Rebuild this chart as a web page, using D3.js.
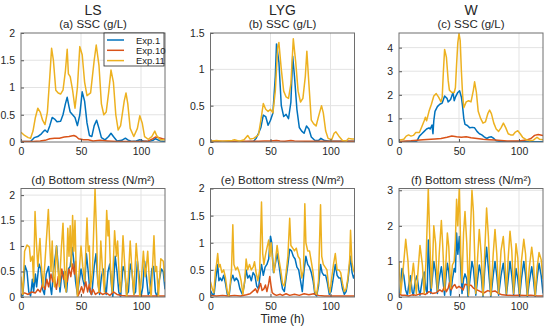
<!DOCTYPE html>
<html>
<head>
<meta charset="utf-8">
<script src="https://cdn.jsdelivr.net/npm/d3@7"></script>
<style>
  body { margin: 0; background: #fff; }
  svg text { font-family: "Liberation Sans", Arial, sans-serif; fill: #262626; }
</style>
</head>
<body>
<svg id="chart" width="550" height="331"></svg>
<script>
// series names and colours (MATLAB default order)
var seriesNames = ["Exp.1", "Exp.10", "Exp.11"];
var seriesColors = ["#0072BD", "#D95319", "#EDB120"];
var xTicks = [0, 50, 100];

// ---- (a) LS, SSC (g/L) : [time h, value]
var lsSscExp1 = [[0,0.01],[8,0.01],[11,0.08],[14,0.1],[17,0.15],[19,0.2],[20,0.22],[22,0.18],[24,0.3],[26,0.45],[28,0.42],[30,0.37],[33,0.38],[35,0.5],[37,0.7],[38.5,0.82],[40,0.65],[41,0.55],[43,0.5],[45,0.45],[47,0.3],[49,0.5],[51,0.92],[53,0.75],[55,0.35],[57,0.12],[59,0.1],[61,0.3],[63,0.4],[65,0.25],[67,0.08],[70,0.04],[73,0.1],[75,0.16],[77,0.1],[80,0.02],[84,0.03],[87,0.07],[89,0.04],[92,0.01],[96,0.02],[99,0.04],[102,0.02],[106,0.01],[110,0.03],[112,0.06],[116,0.02],[120,0.01]];
var lsSscExp10 = [[0,0.01],[10,0.01],[16,0.02],[20,0.03],[24,0.06],[28,0.07],[32,0.07],[36,0.09],[40,0.1],[44,0.12],[46,0.1],[48,0.06],[52,0.04],[56,0.04],[60,0.02],[66,0.03],[72,0.02],[80,0.01],[90,0.01],[100,0.01],[106,0.02],[110,0.06],[112,0.09],[115,0.08],[118,0.06],[120,0.05]];
var lsSscExp11 = [[0,0.18],[3,0.12],[6,0.08],[8,0.07],[10,0.2],[12,0.45],[14,0.62],[16,0.55],[18,0.4],[20,0.32],[22,0.55],[24,1.2],[25.5,1.72],[27,1.5],[29,0.95],[31,0.9],[33,0.88],[35,0.95],[37,1.3],[38.5,1.7],[39.5,1.25],[41,1.2],[43,0.95],[45,0.62],[47,1.0],[49,1.75],[51,1.6],[53,1.1],[55,0.85],[58,0.9],[61,1.5],[62.7,1.78],[65,1.4],[67,0.7],[69,0.5],[71,0.55],[73,0.9],[75,1.32],[77,1.1],[79,0.5],[81,0.22],[83,0.3],[86,0.75],[87.5,0.9],[89,0.7],[91,0.25],[94,0.1],[97,0.25],[99,0.48],[101,0.35],[103,0.1],[106,0.05],[109,0.1],[111.5,0.2],[113,0.12],[116,0.04],[120,0.04]];

// ---- (b) LYG, SSC (g/L)
var lygSscExp1 = [[0,0.005],[10,0.005],[20,0.005],[30,0.005],[36,0.01],[38,0.05],[40,0.12],[42,0.2],[44,0.37],[46,0.35],[48,0.23],[50,0.3],[52,0.4],[54,0.9],[55,1.35],[57,1.1],[59,0.5],[61,0.35],[63,0.38],[65,0.32],[67,0.55],[68.5,1.18],[70,0.9],[72,0.45],[74,0.2],[76,0.15],[78,0.12],[80,0.22],[82,0.18],[84,0.07],[87,0.02],[90,0.02],[92,0.05],[95,0.02],[100,0.01],[110,0.01],[120,0.01]];
var lygSscExp10 = [[0,0.01],[10,0.01],[20,0.01],[30,0.01],[40,0.01],[45,0.015],[50,0.015],[55,0.022],[58,0.015],[62,0.01],[67,0.02],[70,0.015],[80,0.01],[90,0.01],[100,0.01],[110,0.01],[120,0.01]];
var lygSscExp11 = [[0,0.01],[5,0.02],[10,0.01],[18,0.02],[20,0.03],[24,0.01],[28,0.03],[31,0.09],[33,0.04],[36,0.05],[40,0.1],[42,0.3],[44,0.53],[46,0.45],[48,0.42],[50,0.45],[52,0.4],[54,0.7],[56,1.3],[57,1.37],[59,1.0],[61,0.7],[63,0.62],[65,0.6],[67,0.8],[69,1.42],[71,1.1],[73,0.7],[75,0.55],[77,0.6],[79,0.9],[80.3,1.25],[82,0.8],[84,0.3],[86,0.25],[88,0.22],[90,0.35],[92.5,0.5],[94,0.4],[96,0.15],[98,0.05],[101,0.03],[103,0.12],[104.5,0.14],[107,0.08],[110,0.02],[113,0.01],[115,0.05],[118,0.04],[120,0.04]];

// ---- (c) W, SSC (g/L)
var wSscExp1 = [[0,0.01],[10,0.02],[14,0.02],[15,0.05],[17,0.25],[19,0.35],[21,0.45],[23,0.55],[25,0.6],[26,0.55],[27.5,0.72],[28.3,0.35],[29,0.9],[30,1.3],[32,1.5],[34,1.6],[36,1.65],[38,1.95],[40,1.85],[41,1.7],[43,1.8],[45,2.1],[46,1.75],[47,1.9],[49,2.1],[50.5,2.17],[52,1.9],[53,1.5],[54,1.0],[55,0.75],[57,0.7],[59,0.6],[61,0.62],[63,0.6],[65,0.45],[67,0.35],[69,0.3],[71,0.22],[73,0.15],[75,0.2],[77,0.22],[79,0.15],[81,0.05],[85,0.02],[90,0.01],[100,0.02],[110,0.01],[120,0.01]];
var wSscExp10 = [[0,0.02],[10,0.05],[20,0.1],[30,0.13],[35,0.15],[40,0.2],[44,0.25],[48,0.22],[52,0.2],[56,0.22],[60,0.18],[65,0.15],[70,0.12],[75,0.1],[80,0.08],[90,0.04],[100,0.04],[106,0.08],[110,0.15],[113,0.28],[116,0.32],[120,0.28]];
var wSscExp11 = [[0,0.08],[2,0.1],[4,0.12],[6,0.25],[8,0.3],[10,0.25],[12,0.28],[14,0.4],[17,0.4],[19,0.65],[21,0.9],[22,1.05],[23,0.9],[25,1.3],[27,1.6],[29,1.95],[31,2.05],[33,1.9],[35,1.7],[36,1.9],[37,3.0],[38,3.92],[39.5,3.6],[41,2.6],[42,2.2],[44,2.1],[46,2.1],[47,2.3],[48,3.3],[49,4.2],[50,4.6],[51,4.3],[52,3.0],[53,2.0],[54,1.45],[56,1.7],[58,1.75],[60,1.7],[62,2.2],[63,2.55],[64.5,2.1],[66,1.3],[68,1.0],[70,0.8],[72,0.85],[74,1.2],[75.5,1.35],[77,1.2],[79,0.8],[81,0.55],[83,0.45],[85,0.6],[87,0.8],[89,0.6],[91,0.35],[93,0.3],[95,0.3],[97,0.42],[99,0.48],[101,0.35],[103,0.2],[106,0.1],[109,0.05],[112,0.08],[115,0.2],[117,0.12],[120,0.1]];

// ---- (d) LS, bottom stress (N/m2)
var lsTauExp1 = [[0,0.05],[1.5,0.02],[3.3,0.62],[5,0.5],[6.5,0.1],[8,0.02],[9.5,0.35],[10.5,0.1],[12,0.45],[13,0.2],[15,0.65],[16.5,0.55],[18,0.15],[19.5,0.05],[21,0.45],[23,0.6],[24.5,0.2],[25.5,0.05],[27,0.5],[29.7,1.0],[31,0.6],[32.5,0.1],[33.5,0.35],[35,0.5],[36.5,0.2],[38,0.1],[39.5,0.55],[41,0.6],[42.8,0.97],[44,0.7],[45.5,0.3],[47,0.05],[48.5,0.3],[50,0.55],[51.5,0.35],[53,0.2],[54.5,0.85],[56,0.5],[57.5,0.1],[59,0.05],[61,0.6],[62.5,0.85],[64,0.3],[65.5,0.05],[67,0.4],[68.5,0.55],[70,0.2],[71,0.05],[72.5,0.5],[74,0.65],[75.5,0.2],[76.5,0.0],[78.5,0.8],[80,0.5],[81.5,0.1],[83,0.0],[85,0.6],[86.5,0.5],[88,0.05],[89.5,0.1],[91,0.65],[92.5,0.5],[94,0.05],[95.5,0.1],[97,0.7],[98.5,0.4],[100,0.0],[101.5,0.2],[103,0.7],[104.5,0.4],[106,0.05],[107.5,0.1],[109,0.55],[110.5,0.6],[112,0.1],[113.5,0.0],[115,0.3],[117,0.55],[118.5,0.5],[120,0.15]];
var lsTauExp10 = [[0,0.05],[3,0.08],[6,0.05],[9,0.1],[12,0.08],[14,0.15],[16,0.1],[18,0.25],[20,0.15],[21.5,0.35],[23,0.2],[25,0.45],[26.5,0.3],[28,0.35],[29.5,0.15],[31,0.4],[32.5,0.3],[34,0.55],[35.5,0.35],[37,0.5],[38.5,0.3],[40,0.55],[41.5,0.4],[43,0.65],[44.5,0.45],[45.5,0.7],[46.5,0.3],[47.5,0.02],[49,0.1],[50.5,0.2],[52,0.08],[54,0.3],[55.5,0.1],[57,0.25],[58.5,0.05],[60,0.15],[62,0.05],[65,0.1],[68,0.05],[71,0.08],[74,0.03],[77,0.1],[80,0.05],[84,0.03],[88,0.02],[95,0.02],[105,0.02],[120,0.02]];
var lsTauExp11 = [[0,0.4],[1.5,0.05],[3,0.9],[5,1.02],[7,0.98],[8,0.7],[9.5,0.8],[10.5,0.3],[11.7,1.68],[13,1.0],[14,0.6],[15.8,1.15],[17,0.6],[18.5,0.2],[20,0.7],[22.8,1.72],[24,1.0],[25,0.5],[26,1.1],[27,0.4],[28,0.2],[29.5,1.0],[31,0.5],[32,0.2],[33.5,0.9],[35,1.45],[36.5,0.4],[37.5,0.1],[39,1.35],[40,0.8],[41,1.4],[42,0.6],[43,1.6],[44,0.9],[45,1.5],[46,0.5],[47,0.0],[48.5,0.5],[50,1.0],[51.5,0.6],[53,0.3],[55,1.55],[56,0.9],[57,1.0],[58,0.2],[59.5,0.5],[61.7,2.13],[63,1.2],[64,0.3],[65,0.1],[66.5,1.1],[68,0.5],[69.5,0.1],[71.4,1.7],[72.5,1.2],[73.2,1.5],[74.5,0.6],[76,0.1],[78,1.3],[79.5,0.8],[80.5,1.1],[82,0.3],[83,0.1],[85,1.2],[86.5,0.6],[88,0.0],[89.5,0.4],[91,1.1],[92.5,0.5],[94,0.05],[96,1.05],[97.5,0.6],[99,0.0],[100.5,0.4],[102,0.9],[103.5,0.4],[104.5,0.6],[105.6,0.9],[107,0.3],[108.5,0.0],[110.8,1.2],[112,0.5],[113,0.6],[114.5,0.0],[116.5,0.75],[118.6,0.7],[120,0.3]];

// ---- (e) LYG, bottom stress (N/m2)
var lygTauExp1 = [[0,0.12],[1.5,0.05],[3,0.05],[4.5,0.35],[6,0.6],[7,0.3],[8,0.35],[9.5,0.3],[11,0.4],[12.5,0.25],[14,0.05],[15.5,0.02],[17,0.3],[18.6,0.4],[20,0.3],[21.5,0.35],[23,0.3],[24.5,0.15],[26.5,0.05],[28,0.2],[29.7,0.5],[31,0.35],[32.5,0.4],[34,0.3],[35.5,0.45],[37,0.4],[38.5,0.2],[40,0.15],[41.5,0.45],[42.5,0.6],[44,0.4],[45.5,0.55],[47,0.6],[48.5,0.7],[50,1.12],[51,1.0],[52.5,0.45],[54,0.6],[55.5,0.8],[57,0.6],[58.5,0.35],[60,0.15],[61.5,0.1],[63,0.35],[64.5,0.6],[66,0.88],[67.5,0.85],[69,0.75],[70.5,0.7],[72,0.55],[73.5,0.5],[75,0.3],[76.5,0.1],[78,0.5],[79.5,0.75],[81,0.6],[82.5,0.55],[84,0.45],[85.5,0.3],[87,0.05],[88.5,0.02],[90,0.2],[91.7,0.6],[93,0.45],[94.5,0.4],[96,0.4],[97.5,0.25],[99,0.05],[100.5,0.1],[102,0.3],[104,0.6],[105.5,0.4],[107,0.35],[108.5,0.35],[110,0.15],[111.5,0.05],[113,0.1],[114.5,0.3],[116.7,0.75],[118,0.45],[119.2,0.35],[120,0.4]];
var lygTauExp10 = [[0,0.03],[5,0.02],[10,0.03],[15,0.02],[20,0.03],[25,0.02],[30,0.04],[33,0.06],[35,0.1],[37.5,0.15],[39,0.08],[40.5,0.18],[41.7,0.25],[43,0.12],[44.5,0.15],[45.8,0.22],[47,0.1],[48.5,0.25],[49.4,0.38],[50.5,0.2],[51.4,0.08],[53,0.05],[55,0.03],[58,0.05],[60,0.03],[63,0.06],[66,0.03],[70,0.05],[74,0.03],[78,0.06],[82,0.04],[86,0.06],[90,0.03],[95,0.02],[105,0.02],[120,0.02]];
var lygTauExp11 = [[0,0.28],[1.5,0.15],[2.8,0.08],[4,0.45],[5,0.6],[6,0.8],[7,0.55],[8,0.6],[9.5,0.45],[11,0.5],[12.5,0.35],[14,0.1],[15.2,0.02],[16.5,0.25],[17.5,0.5],[18.6,1.33],[19.5,0.6],[21,0.5],[22.5,0.55],[24,0.45],[25.5,0.3],[27,0.05],[28.5,0.3],[29.7,0.7],[31,0.5],[32.5,0.6],[34,0.5],[35.5,0.55],[36.7,0.65],[38,0.45],[39.5,0.3],[41,0.5],[42.5,1.75],[43.5,0.8],[44.5,0.6],[46,0.8],[47,0.9],[48.5,1.05],[49.5,0.75],[50.5,1.0],[52,0.6],[53,0.45],[54.5,0.75],[55.5,0.95],[57,0.7],[58.5,0.5],[60,0.25],[61.5,0.2],[63,0.45],[64.5,0.75],[66,1.45],[67,0.95],[68.5,0.9],[70,0.85],[71.5,0.9],[73,0.75],[74.5,0.7],[76,0.35],[77.5,0.5],[78.6,1.72],[79.5,1.0],[81,0.85],[82.5,0.85],[84,0.65],[85.5,0.45],[87,0.1],[88.5,0.05],[90,0.3],[91.7,1.7],[92.7,0.75],[94,0.6],[95.5,0.55],[97,0.5],[98.5,0.2],[99.5,0.08],[101,0.35],[102.5,0.6],[104,0.8],[105.5,0.5],[107,0.5],[108.5,0.45],[110,0.25],[111.5,0.1],[113,0.15],[114.5,0.35],[116,0.7],[116.7,1.23],[117.8,0.65],[119,0.5],[120,0.45]];

// ---- (f) W, bottom stress (N/m2)
var wTauExp1 = [[0,0.1],[0.5,0.05],[2.5,0.8],[4,0.6],[5.5,0.2],[7,0.05],[8,0.3],[9.5,0.6],[11,0.15],[12,0.05],[13.5,0.45],[15,0.6],[16.5,0.2],[17.5,0.05],[19.5,0.5],[21,0.7],[22.5,0.2],[23.5,0.1],[24.4,1.6],[25.5,0.8],[26.5,0.1],[28,0.6],[29,1.0],[30.5,0.7],[32,0.1],[33.5,0.5],[35.3,0.85],[36.5,0.5],[38,0.05],[39,0.5],[40.3,0.95],[41.5,0.7],[43,0.05],[44.5,0.5],[46,0.8],[47,0.7],[48,1.8],[49,1.2],[50.3,1.7],[51.5,0.8],[52.5,0.1],[53.8,0.5],[55,0.65],[56.5,0.5],[57.5,0.0],[59.5,0.6],[60.8,1.0],[62,0.8],[64,0.05],[65.5,0.5],[66.9,0.9],[68.5,0.6],[70,0.0],[71.5,0.8],[73,1.4],[74.5,0.8],[76.5,0.0],[78.5,0.6],[80,1.0],[81.5,0.6],[83,0.05],[85,0.6],[86.9,0.95],[88,0.6],[89.5,0.05],[91,0.5],[92.5,1.0],[94,0.6],[95.5,0.05],[96.5,0.4],[97.5,0.8],[99,0.5],[100.5,0.0],[102,0.5],[104,1.0],[105.5,0.6],[107,0.0],[108.5,0.4],[110.6,0.85],[112,0.5],[113.5,0.0],[115,0.5],[116.7,0.95],[118.5,0.6],[120,0.1]];
var wTauExp10 = [[0,0.1],[2,0.05],[5,0.05],[8,0.03],[11,0.06],[14,0.05],[17,0.08],[20,0.1],[22,0.07],[25,0.15],[28,0.1],[31,0.12],[34,0.2],[36,0.15],[38,0.3],[39.5,0.15],[41,0.25],[42,0.4],[43.5,0.2],[45,0.3],[46.5,0.35],[48,0.25],[50,0.3],[52,0.25],[53.5,0.2],[55,0.36],[57,0.34],[60,0.33],[62,0.25],[65,0.2],[68,0.15],[71,0.12],[74,0.18],[77,0.15],[80,0.17],[83,0.1],[86,0.06],[90,0.05],[95,0.04],[100,0.05],[105,0.04],[110,0.05],[115,0.03],[120,0.03]];
var wTauExp11 = [[0,1.0],[1.5,0.1],[3,0.6],[5.6,1.62],[7.5,1.0],[9,0.1],[10.5,0.5],[12,0.95],[13.5,0.4],[14.5,0.1],[16,0.8],[17.5,1.45],[19.5,0.9],[21,0.1],[22.5,1.0],[24.4,3.05],[25.5,1.8],[27,0.25],[28,1.0],[29,2.0],[30.5,1.5],[32,0.2],[33.5,1.2],[35.3,2.15],[36.5,1.4],[38,0.2],[39,0.9],[40.3,1.8],[41.5,1.4],[43,0.25],[44.5,0.9],[46,1.0],[47,1.6],[48,2.75],[49,2.0],[50.3,3.1],[51.5,1.2],[52.5,0.4],[53.8,1.8],[55,2.4],[56.5,1.5],[58,0.05],[59.5,1.8],[60.8,3.0],[62,2.4],[64,0.1],[65.5,1.1],[66.9,1.9],[68.5,1.2],[70,0.05],[71.5,1.3],[73,2.5],[74.5,1.7],[76.5,0.05],[78.5,1.2],[80,1.9],[81.5,1.2],[83,0.1],[85,1.3],[86.9,1.7],[88,1.2],[89.5,0.1],[91,1.1],[92.5,1.85],[94,1.3],[95.5,0.1],[96.5,0.8],[97.5,1.5],[99,1.1],[100.5,0.05],[102,1.0],[104,1.62],[105.5,1.2],[107,0.05],[108.5,0.8],[110.6,1.4],[112,1.0],[113.5,0.05],[115,0.8],[116.7,1.25],[118.5,1.05],[120,0.5]];

// panel layout
var colLeft = [21, 210.5, 399];
var plotW = 144;
var rowTop = [33, 188.5];
var plotH = [109, 108.5];

var panels = [
  { col: 0, row: 0, title: "(a) SSC (g/L)", yMax: 2, yTicks: [0, 0.5, 1, 1.5, 2], series: [lsSscExp1, lsSscExp10, lsSscExp11], legend: true },
  { col: 1, row: 0, title: "(b) SSC (g/L)", yMax: 1.5, yTicks: [0, 0.5, 1, 1.5], series: [lygSscExp1, lygSscExp10, lygSscExp11] },
  { col: 2, row: 0, title: "(c) SSC (g/L)", yMax: 4.62, yTicks: [0, 1, 2, 3, 4], series: [wSscExp1, wSscExp10, wSscExp11] },
  { col: 0, row: 1, title: "(d) Bottom stress (N/m²)", yMax: 2.13, yTicks: [0, 0.5, 1, 1.5, 2], series: [lsTauExp1, lsTauExp10, lsTauExp11] },
  { col: 1, row: 1, title: "(e) Bottom stress (N/m²)", yMax: 2, yTicks: [0, 0.5, 1, 1.5, 2], series: [lygTauExp1, lygTauExp10, lygTauExp11] },
  { col: 2, row: 1, title: "(f) Bottom stress (N/m²)", yMax: 3.05, yTicks: [0, 1, 2, 3], series: [wTauExp1, wTauExp10, wTauExp11] }
];
var columnTitles = ["LS", "LYG", "W"];

var svg = d3.select("#chart");
var fmt = d3.format("~g");

panels.forEach(function (p, i) {
  var left = colLeft[p.col], top = rowTop[p.row], h = plotH[p.row];
  var x = d3.scaleLinear().domain([0, 120]).range([0, plotW]);
  var y = d3.scaleLinear().domain([0, p.yMax]).range([h, 0]);

  var g = svg.append("g").attr("transform", "translate(" + left + "," + top + ")");

  g.append("clipPath").attr("id", "clip" + i)
    .append("rect").attr("width", plotW).attr("height", h);

  // grid
  g.append("g").selectAll("line").data(xTicks.filter(function (t) { return t > 0; }))
    .enter().append("line")
    .attr("x1", function (d) { return x(d); }).attr("x2", function (d) { return x(d); })
    .attr("y1", 0).attr("y2", h)
    .attr("stroke", "#e3e3e3").attr("stroke-width", 1);
  g.append("g").selectAll("line").data(p.yTicks.filter(function (t) { return t > 0 && t < p.yMax; }))
    .enter().append("line")
    .attr("x1", 0).attr("x2", plotW)
    .attr("y1", function (d) { return y(d); }).attr("y2", function (d) { return y(d); })
    .attr("stroke", "#e3e3e3").attr("stroke-width", 1);

  // series
  var line = d3.line().x(function (d) { return x(d[0]); }).y(function (d) { return y(d[1]); });
  g.append("g").attr("clip-path", "url(#clip" + i + ")")
    .selectAll("path").data(p.series).enter().append("path")
    .attr("d", line)
    .attr("fill", "none")
    .attr("stroke", function (d, k) { return seriesColors[k]; })
    .attr("stroke-width", 1.5)
    .attr("stroke-linejoin", "round");

  // axes (inward ticks, MATLAB style)
  var xAxis = d3.axisBottom(x).tickValues(xTicks).tickFormat(fmt).tickSizeInner(-3).tickSizeOuter(0).tickPadding(6);
  var yAxis = d3.axisLeft(y).tickValues(p.yTicks).tickFormat(fmt).tickSizeInner(-3).tickSizeOuter(0).tickPadding(6);
  var gx = g.append("g").attr("transform", "translate(0," + h + ")").call(xAxis);
  var gy = g.append("g").call(yAxis);
  [gx, gy].forEach(function (a) {
    a.select(".domain").remove();
    a.selectAll("line").attr("stroke", "#555");
    a.selectAll("text").style("font-size", "10.5px").attr("fill", "#262626");
  });

  g.append("rect").attr("width", plotW).attr("height", h)
    .attr("fill", "none").attr("stroke", "#6e6e6e").attr("stroke-width", 1);

  g.append("text")
    .attr("x", plotW / 2).attr("y", -5)
    .attr("text-anchor", "middle")
    .style("font-size", "11.5px")
    .text(p.title);

  if (p.legend) {
    var lg = g.append("g").attr("transform", "translate(" + (plotW - 61) + ",0)");
    lg.append("rect").attr("width", 60).attr("height", 33)
      .attr("fill", "#fff").attr("stroke", "#262626").attr("stroke-width", 0.8);
    seriesNames.forEach(function (name, k) {
      var yy = 7 + k * 10.3;
      lg.append("line").attr("x1", 3).attr("x2", 20).attr("y1", yy).attr("y2", yy)
        .attr("stroke", seriesColors[k]).attr("stroke-width", 1.5);
      lg.append("text").attr("x", 32).attr("y", yy + 3.5)
        .style("font-size", "9.5px").text(name);
    });
  }
});

columnTitles.forEach(function (t, c) {
  svg.append("text")
    .attr("x", colLeft[c] + plotW / 2).attr("y", 15)
    .attr("text-anchor", "middle")
    .style("font-size", "14px")
    .text(t);
});

svg.append("text")
  .attr("x", colLeft[1] + plotW / 2).attr("y", 323)
  .attr("text-anchor", "middle")
  .style("font-size", "12px")
  .text("Time (h)");
</script>
</body>
</html>
